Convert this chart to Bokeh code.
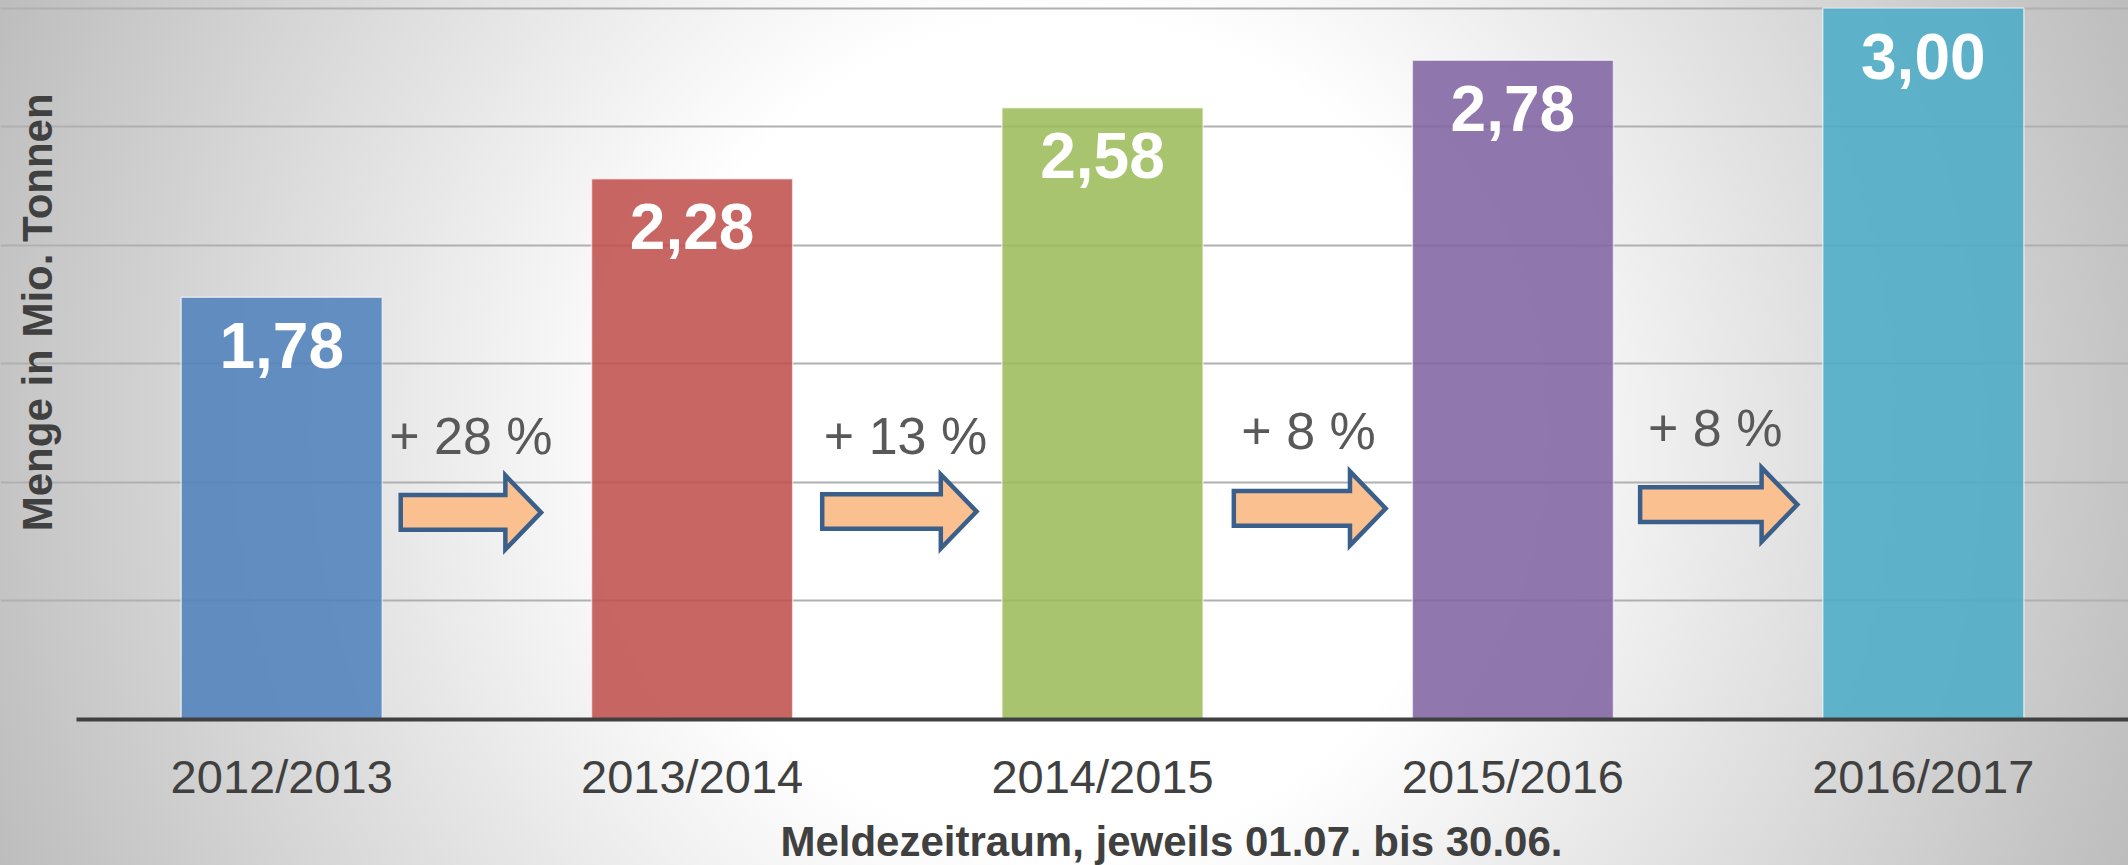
from bokeh.plotting import figure
from bokeh.models import Range1d, ColumnDataSource, FixedTicker, CustomJSTickFormatter
from bokeh.core.properties import value
from bokeh.embed import file_html
from bokeh.resources import INLINE

# ---- data ----
categories = ["2012/2013", "2013/2014", "2014/2015", "2015/2016", "2016/2017"]
amounts = [1.78, 2.28, 2.58, 2.78, 3.00]
bar_colors = ["#4F81BD", "#C0504D", "#9BBB59", "#8064A2", "#4BACC6"]
grid_values = [0.5, 1.0, 1.5, 2.0, 2.5, 3.0]
y_title = "Menge in Mio. Tonnen"
x_title = "Meldezeitraum, jeweils 01.07. bis 30.06."

value_labels = [f"{v:.2f}".replace(".", ",") for v in amounts]
growth_labels = [f"+ {round((b / a - 1) * 100)} %" for a, b in zip(amounts[:-1], amounts[1:])]

# category slot i is centred at i + 0.5 on the x scale
cat_x = [i + 0.5 for i in range(len(categories))]

# ---- annotation layout (offsets from the boundary between two categories) ----
growth_dx = [-0.039, 0.020, 0.002, -0.007]
growth_y = [1.197, 1.197, 1.218, 1.231]
arrow_tip_dx = [0.132, 0.193, 0.190, 0.193]
arrow_len = [0.342, 0.376, 0.370, 0.383]
arrow_y = [0.873, 0.877, 0.890, 0.906]
ARROW_HEAD = 0.087
ARROW_BODY_H = 0.073
ARROW_HEAD_H = 0.156

FONT = "Liberation Sans"

p = figure(
    x_range=Range1d(-0.1852, 5.0),
    y_range=Range1d(-0.616, 3.032),
    width=2128, height=865,
    output_backend="svg", toolbar_location=None, title=None,
    min_border_left=0, min_border_right=0, min_border_top=0, min_border_bottom=0,
)
p.background_fill_color = None
p.border_fill_color = None
p.outline_line_color = None
p.styles = {"background": "radial-gradient(circle farthest-corner at 50% 50%, #ffffff 0%, #ffffff 36%, #bdbdbd 100%)"}

# grid
p.xgrid.grid_line_color = None
p.ygrid.ticker = FixedTicker(ticks=grid_values)
p.ygrid.bounds = (0, len(categories))
p.ygrid.grid_line_color = "#b0b0b0"
p.ygrid.grid_line_width = 2

# axes
p.yaxis.visible = False
xa = p.xaxis[0]
xa.fixed_location = 0
xa.bounds = (0, len(categories))
xa.ticker = FixedTicker(ticks=cat_x)
xa.formatter = CustomJSTickFormatter(args=dict(labels=categories),
                                     code="return labels[Math.floor(tick)] ?? ''")
xa.axis_line_color = "#404040"
xa.axis_line_width = 4
xa.major_tick_line_color = None
xa.minor_tick_line_color = None
xa.major_label_standoff = 25
xa.major_label_text_font = FONT
xa.major_label_text_font_size = "47px"
xa.major_label_text_color = "#404040"

# bars
src = ColumnDataSource(dict(x=cat_x, val=amounts, color=bar_colors, label=value_labels))
p.vbar(x="x", top="val", width=0.49, source=src, fill_color="color", fill_alpha=0.875,
       line_color="white", line_alpha=0.6, line_width=1.5)
p.text(x="x", y="val", text="label", source=src, text_align="center", text_baseline="alphabetic",
       y_offset=48, text_color="white", text_font=value(FONT), text_font_style="bold",
       text_font_size="64px")

# growth labels and arrows between categories
bounds = [i + 1 for i in range(len(growth_labels))]
p.text(x=[b + d for b, d in zip(bounds, growth_dx)], y=growth_y,
       text=growth_labels, text_align="center", text_baseline="alphabetic", text_color="#595959",
       text_font=value(FONT), text_font_size="52px")

xs, ys = [], []
for b, dx, L, yc in zip(bounds, arrow_tip_dx, arrow_len, arrow_y):
    t = b + dx
    xs.append([t - L, t - ARROW_HEAD, t - ARROW_HEAD, t, t - ARROW_HEAD, t - ARROW_HEAD, t - L])
    ys.append([yc + ARROW_BODY_H, yc + ARROW_BODY_H, yc + ARROW_HEAD_H, yc,
               yc - ARROW_HEAD_H, yc - ARROW_BODY_H, yc - ARROW_BODY_H])
p.patches(xs=xs, ys=ys, fill_color="#FAC090", line_color="#3A5F8B", line_width=4.5,
          line_join="miter")

# axis titles
p.text(x=[2.668], y=[-0.516], text=[x_title], text_align="center", text_baseline="alphabetic",
       text_font=value(FONT), text_font_size="42px", text_font_style="bold", text_color="#404040")
p.text(x=[-0.094], y=[1.717], text=[y_title], angle=90, angle_units="deg",
       text_align="center", text_baseline="alphabetic", text_font=value(FONT),
       text_font_size="42px", text_font_style="bold", text_color="#404040")

open("out.html", "w").write(file_html(p, INLINE))
